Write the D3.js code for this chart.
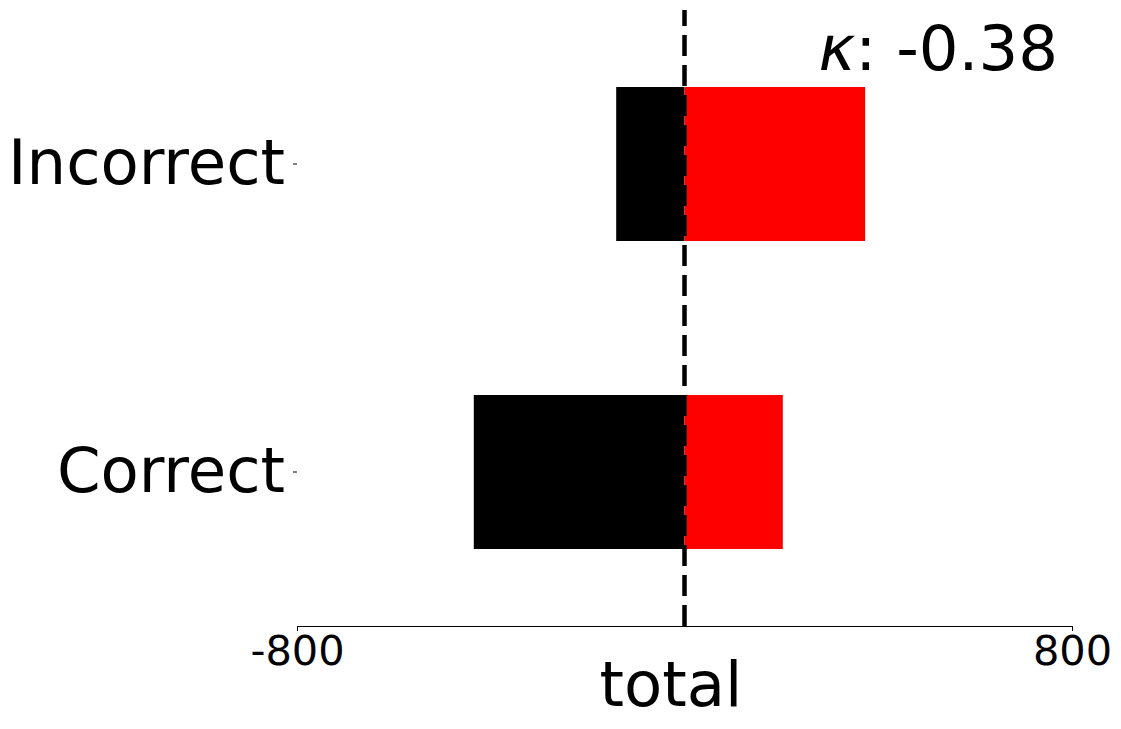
<!DOCTYPE html>
<html>
<head>
<meta charset="utf-8">
<script src="https://cdn.jsdelivr.net/npm/d3@7"></script>
<style>
  body { margin: 0; background: #fff; }
  text { font-family: "DejaVu Sans", sans-serif; fill: #000; }
</style>
</head>
<body>
<script>
'use strict';

var width  = 1121;
var height = 729;

// data
var categories = ['Incorrect', 'Correct'];
var negValues  = [-141, -435];
var posValues  = [373, 203];
var xTicks     = [-800, 800];
var kappa      = -0.38;

var svg = d3.select('body').append('svg')
    .attr('width', width)
    .attr('height', height);

var x = d3.scaleLinear().domain([-800, 800]).range([297, 1072]);
var y = d3.scaleBand().domain(categories).range([10, 626])
    .paddingInner(0.5).paddingOuter(0.25);

// bars
svg.selectAll('rect.neg').data(categories).enter().append('rect')
    .attr('class', 'neg')
    .attr('x', function(d, i) { return x(negValues[i]); })
    .attr('y', function(d) { return y(d); })
    .attr('width', function(d, i) { return x(0) - x(negValues[i]); })
    .attr('height', y.bandwidth())
    .attr('fill', '#000');

svg.selectAll('rect.pos').data(categories).enter().append('rect')
    .attr('class', 'pos')
    .attr('x', x(0))
    .attr('y', function(d) { return y(d); })
    .attr('width', function(d, i) { return x(posValues[i]) - x(0); })
    .attr('height', y.bandwidth())
    .attr('fill', '#ff0000');

// x axis
var xAxis = svg.append('g')
    .attr('transform', 'translate(0,626)')
    .call(d3.axisBottom(x).tickValues(xTicks).tickSize(5).tickPadding(5).tickFormat(d3.format('d')));
xAxis.select('.domain').attr('stroke', '#000').attr('stroke-width', 1.2)
    .attr('d', 'M' + x(-800) + ',0.5H' + x(800));
xAxis.selectAll('.tick line').attr('stroke', '#000').attr('stroke-width', 1);
xAxis.selectAll('.tick text')
    .style('font-family', '"DejaVu Sans", sans-serif')
    .style('font-size', '41.5px')
    .attr('fill', '#000')
    .text(function(d) { return d < 0 ? '-' + Math.abs(d) : d; });

// y axis (no spine)
var yAxis = svg.append('g')
    .attr('transform', 'translate(297,0)')
    .call(d3.axisLeft(y).tickSize(4).tickPadding(8));
yAxis.select('.domain').remove();
yAxis.selectAll('.tick line').attr('stroke', '#000').attr('stroke-width', 1);
yAxis.selectAll('.tick text')
    .style('font-family', '"DejaVu Sans", sans-serif')
    .style('font-size', '62.5px')
    .attr('fill', '#000');

// dashed zero line
svg.append('line')
    .attr('x1', x(0)).attr('x2', x(0))
    .attr('y1', 626).attr('y2', 10)
    .attr('stroke', '#000')
    .attr('stroke-width', 4.5)
    .attr('stroke-dasharray', '21,9');

// x label
svg.append('text')
    .attr('x', 671)
    .attr('y', 706)
    .attr('text-anchor', 'middle')
    .style('font-size', '62.5px')
    .text('total');

// kappa
var kt = svg.append('text')
    .attr('x', 1058)
    .attr('y', 70)
    .attr('text-anchor', 'end')
    .style('font-size', '62.5px');
kt.append('tspan').style('font-style', 'italic').text('κ');
kt.append('tspan').text(': ' + kappa.toFixed(2));
</script>
</body>
</html>
